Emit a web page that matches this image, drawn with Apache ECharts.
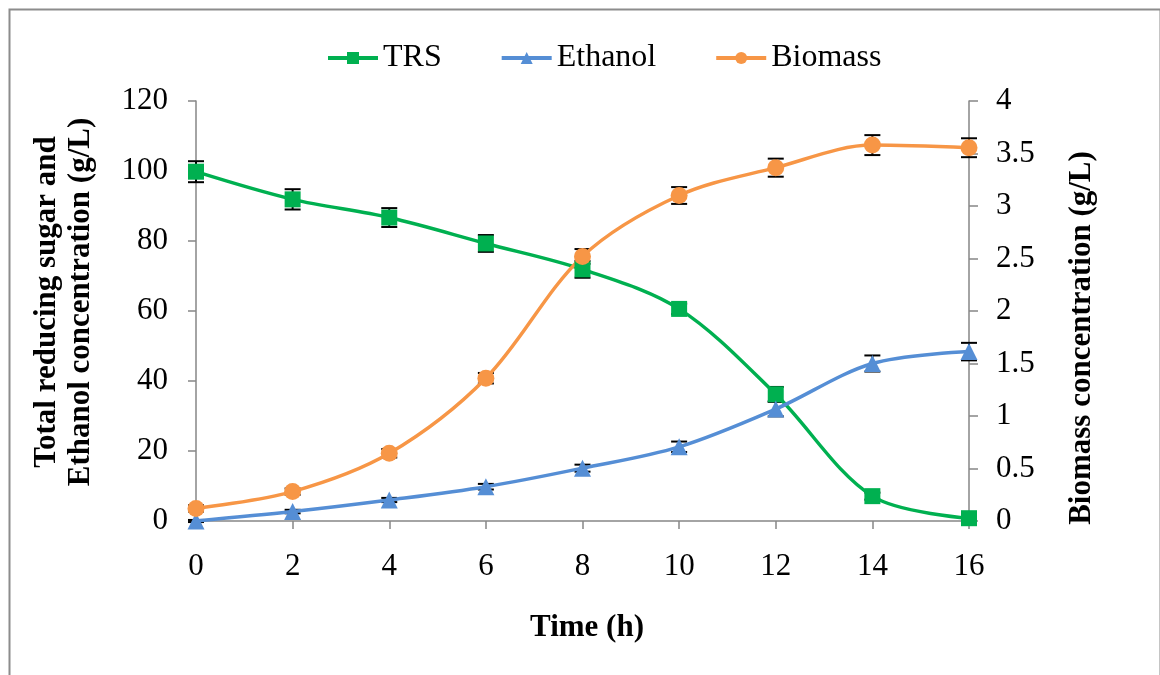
<!DOCTYPE html>
<html>
<head>
<meta charset="utf-8">
<script src="https://cdn.jsdelivr.net/npm/echarts@6/dist/echarts.min.js"></script>
<style>
  html, body { margin: 0; padding: 0; background: #fff; }
  #chart { width: 1160px; height: 675px; }
</style>
</head>
<body>
<div id="chart"></div>
<script>
// Fermentation time course: sugar consumption, ethanol and biomass production
const hours = [0, 2, 4, 6, 8, 10, 12, 14, 16];
const trs = [99.8, 91.9, 86.7, 79.3, 71.9, 60.6, 36.2, 7.1, 0.8];
const trsErr = [3.0, 2.9, 2.7, 2.4, 2.4, 1.5, 2.1, 1.0, 0.5];
const ethanol = [0, 2.7, 6.0, 9.8, 15.1, 21.2, 32.0, 45.0, 48.4];
const ethanolErr = [0.3, 0.5, 0.6, 0.8, 1.0, 1.5, 2.1, 2.3, 2.5];
const biomass = [0.12, 0.28, 0.645, 1.36, 2.52, 3.10, 3.365, 3.58, 3.555];
const biomassErr = [0.03, 0.03, 0.04, 0.05, 0.07, 0.08, 0.086, 0.095, 0.09];

const FONT = '"Liberation Serif", "Times New Roman", serif';
const AXIS_GRAY = '#868686';

const pairs = (ys) => hours.map((h, i) => [h, ys[i]]);
const triples = (ys, es) => hours.map((h, i) => [h, ys[i], es[i]]);

// Vertical error bar with short caps, drawn in data coordinates
function errorBar(params, api) {
  const x = api.value(0), y = api.value(1), e = api.value(2);
  const top = api.coord([x, y + e]);
  const bot = api.coord([x, y - e]);
  const half = 8;
  const style = { stroke: '#000', lineWidth: 2 };
  return {
    type: 'group',
    children: [
      { type: 'line', shape: { x1: top[0], y1: top[1], x2: bot[0], y2: bot[1] }, style },
      { type: 'line', shape: { x1: top[0] - half, y1: top[1], x2: top[0] + half, y2: top[1] }, style },
      { type: 'line', shape: { x1: bot[0] - half, y1: bot[1], x2: bot[0] + half, y2: bot[1] }, style }
    ]
  };
}

const chart = echarts.init(document.getElementById('chart'), null, { renderer: 'canvas' });

const lineSeries = (name, data, color, symbol, size, yAxisIndex) => ({
  name, type: 'line', data, yAxisIndex,
  smooth: 0.33,
  symbol, symbolSize: size,
  itemStyle: { color },
  lineStyle: { color, width: 3.5 },
  z: 3
});

const errSeries = (data, yAxisIndex) => ({
  type: 'custom', data, yAxisIndex,
  renderItem: errorBar,
  encode: { x: 0, y: 1 },
  silent: true,
  z: 2
});

const tickLabel = (margin) => ({ color: '#000', fontSize: 31, fontFamily: FONT, margin });

chart.setOption({
  animation: false,
  backgroundColor: '#fff',
  textStyle: { fontFamily: FONT },
  grid: { left: 196, right: 191, top: 101, bottom: 154 },
  legend: {
    top: 37, left: 321,
    itemWidth: 50, itemHeight: 15, itemGap: 58,
    lineStyle: { width: 4 },
    textStyle: { fontFamily: FONT, fontSize: 32, color: '#000', padding: [0, 0, 0, 0] },
    data: ['TRS', 'Ethanol', 'Biomass']
  },
  xAxis: {
    type: 'value', min: 0, max: 16, interval: 2,
    axisLine: { lineStyle: { color: AXIS_GRAY, width: 1.5 } },
    axisTick: { show: true, length: 8, lineStyle: { color: AXIS_GRAY, width: 1.5 } },
    axisLabel: tickLabel(30),
    splitLine: { show: false }
  },
  yAxis: [
    {
      type: 'value', min: 0, max: 120, interval: 20,
      axisLine: { show: true, lineStyle: { color: AXIS_GRAY, width: 1.5 } },
      axisTick: { show: true, length: 8, lineStyle: { color: AXIS_GRAY, width: 1.5 } },
      axisLabel: tickLabel(28),
      splitLine: { show: false }
    },
    {
      type: 'value', min: 0, max: 4, interval: 0.5, position: 'right',
      axisLine: { show: true, lineStyle: { color: AXIS_GRAY, width: 1.5 } },
      axisTick: { show: true, length: 9, lineStyle: { color: AXIS_GRAY, width: 1.5 } },
      axisLabel: tickLabel(27),
      splitLine: { show: false }
    }
  ],
  graphic: [
    {
      type: 'rect', left: 7, top: 7, silent: true,
      shape: { width: 1151, height: 720 },
      style: { fill: 'none', stroke: '#8c8c8c', lineWidth: 2 }
    },
    {
      type: 'text', x: 64, y: 302, rotation: Math.PI / 2,
      style: {
        text: 'Total reducing sugar and\nEthanol concentration (g/L)',
        font: 'bold 31px ' + FONT, fill: '#000',
        align: 'center', verticalAlign: 'middle', lineHeight: 34
      }
    },
    {
      type: 'text', x: 1082, y: 338, rotation: Math.PI / 2,
      style: {
        text: 'Biomass concentration (g/L)',
        font: 'bold 31px ' + FONT, fill: '#000',
        align: 'center', verticalAlign: 'middle'
      }
    },
    {
      type: 'text', x: 587, y: 628,
      style: {
        text: 'Time (h)',
        font: 'bold 31px ' + FONT, fill: '#000',
        align: 'center', verticalAlign: 'middle'
      }
    }
  ],
  series: [
    errSeries(triples(trs, trsErr), 0),
    errSeries(triples(ethanol, ethanolErr), 0),
    errSeries(triples(biomass, biomassErr), 1),
    lineSeries('TRS', pairs(trs), '#00B050', 'rect', 16, 0),
    lineSeries('Ethanol', pairs(ethanol), '#558ED5', 'triangle', 17, 0),
    lineSeries('Biomass', pairs(biomass), '#F79646', 'circle', 17, 1)
  ]
});
</script>
</body>
</html>
